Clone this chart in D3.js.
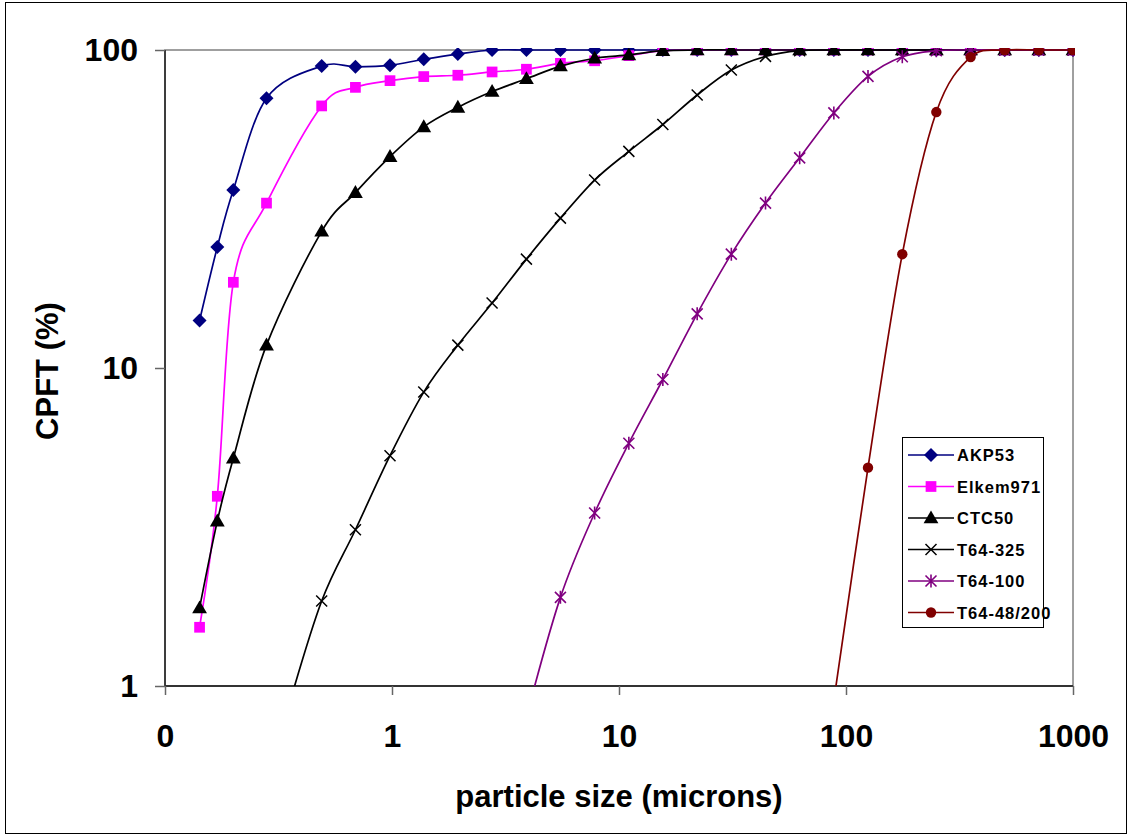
<!DOCTYPE html>
<html>
<head>
<meta charset="utf-8">
<script src="https://cdn.jsdelivr.net/npm/d3@7/dist/d3.min.js"></script>
<style>
  body { margin: 0; background: #fff; }
  svg { display: block; font-family: "Liberation Sans", Arial, sans-serif; }
</style>
</head>
<body>
<svg id="chart" width="1132" height="836"></svg>
<script>
// particle sizes (microns) of the measured points
var sizes = [0.142, 0.17, 0.2, 0.28, 0.345, 0.49, 0.69, 0.98, 1.38, 1.95, 2.76, 3.91, 5.52, 7.81,
             11.05, 15.6, 22.1, 31.25, 44.2, 62.5, 88.4, 125, 177, 250, 354, 500, 707, 1000];

// CPFT (%) per series, null = not measured
var akp53 = [14.1, 24, 36.3, 70.5, null, 89, 88.5, 89.5, 93.5, 97.1, 100, 100, 100, 100,
             100, 100, 100, 100, 100, 100, 100, 100, 100, 100, 100, 100, 100, 100];
var elkem971 = [1.53, 3.95, 18.6, 33, null, 66.7, 76.3, 80.1, 82.5, 83.3, 85.3, 87, 90.8, 92.5,
                96, 99.5, 100, 100, 100, 100, 100, 100, 100, 100, 100, 100, 100, 100];
var ctc50 = [1.76, 3.3, 5.2, 11.8, null, 26.9, 35.6, 46.2, 57.3, 66, 74, 81.2, 89, 94.2,
             96.5, 99.5, 100, 100, 100, 100, 100, 100, 100, 100, 100, 100, 100, 100];
var t64_325 = [null, null, null, null, 0.83, 1.85, 3.1, 5.3, 8.4, 11.8, 16, 22, 29.6, 39,
               48, 58.3, 72.2, 86.5, 95.5, 99.5, 100, 100, 100, 100, 100, 100, 100, 100];
var t64_100 = [null, null, null, null, null, null, null, null, null, null, null, 0.8, 1.9, 3.5,
               5.8, 9.2, 14.8, 22.8, 33, 45.8, 63.4, 82.6, 95.2, 99.5, 100, 100, 100, 100];
var t64_48 = [null, null, null, null, null, null, null, null, null, null, null, null, null, null,
              null, null, null, null, null, null, 0.9, 4.86, 22.8, 63.8, 95, 100, 100, 100];

var seriesNames = ["AKP53", "Elkem971", "CTC50", "T64-325", "T64-100", "T64-48/200"];
var seriesValues = [akp53, elkem971, ctc50, t64_325, t64_100, t64_48];
var seriesColors = ["#000080", "#ff00ff", "#000000", "#000000", "#800080", "#800000"];
var seriesMarkers = ["diamond", "square", "triangle", "x", "star", "circle"];

var xTicks = [0.1, 1, 10, 100, 1000];
var xTickLabels = ["0", "1", "10", "100", "1000"];
var yTicks = [1, 10, 100];

(function() {
  var pLeft = 165, pRight = 1073, pTop = 50, pBottom = 686;

  var x = d3.scaleLog().domain([0.1, 1000]).range([pLeft, pRight]);
  var y = d3.scaleLog().domain([1, 100]).range([pBottom, pTop]);

  var svg = d3.select("#chart");

  // outer frame
  svg.append("rect")
      .attr("x", 5.5).attr("y", 2.5)
      .attr("width", 1121).attr("height", 831)
      .attr("fill", "#fff")
      .attr("stroke", "#000")
      .attr("stroke-width", 1);

  // plot area border
  svg.append("rect")
      .attr("x", pLeft).attr("y", pTop)
      .attr("width", pRight - pLeft).attr("height", pBottom - pTop)
      .attr("fill", "none")
      .attr("stroke", "#808080")
      .attr("stroke-width", 1.5);

  svg.append("defs").append("clipPath")
      .attr("id", "plot-clip")
    .append("rect")
      .attr("x", pLeft).attr("y", pTop - 2)
      .attr("width", pRight - pLeft + 2).attr("height", pBottom - pTop + 2);

  // axes
  var xAxis = d3.axisBottom(x)
      .tickValues(xTicks)
      .tickSize(9)
      .tickPadding(29)
      .tickFormat(function(d, i) { return xTickLabels[i]; });

  var yAxis = d3.axisLeft(y)
      .tickValues(yTicks)
      .tickSize(10)
      .tickPadding(17)
      .tickFormat(d3.format("d"));

  var gx = svg.append("g")
      .attr("transform", "translate(0," + pBottom + ")")
      .call(xAxis);

  var gy = svg.append("g")
      .attr("transform", "translate(" + pLeft + ",0)")
      .call(yAxis);

  [gx, gy].forEach(function(g) {
    g.select(".domain").attr("stroke", "#333").attr("stroke-width", 1.8);
    g.selectAll(".tick line").attr("stroke", "#666").attr("stroke-width", 1.5);
    g.selectAll(".tick text")
        .attr("font-family", "'Liberation Sans', Arial, sans-serif")
        .attr("font-size", 32)
        .attr("font-weight", "bold")
        .attr("fill", "#000");
  });
  gx.select(".domain").attr("d", "M" + pLeft + ",0H" + pRight);
  gy.select(".domain").attr("d", "M0," + pBottom + "V" + pTop);

  // axis titles
  svg.append("text")
      .attr("x", 619).attr("y", 807)
      .attr("text-anchor", "middle")
      .attr("font-size", 31)
      .attr("font-weight", "bold")
      .text("particle size (microns)");

  svg.append("text")
      .attr("transform", "translate(58,371) rotate(-90)")
      .attr("text-anchor", "middle")
      .attr("font-size", 31)
      .attr("font-weight", "bold")
      .text("CPFT (%)");

  // markers
  function drawMarker(g, type, color) {
    if (type === "diamond") {
      g.append("path").attr("d", d3.symbol(d3.symbolSquare, 98)())
          .attr("transform", "rotate(45)").attr("fill", color);
    } else if (type === "square") {
      g.append("path").attr("d", d3.symbol(d3.symbolSquare, 115)()).attr("fill", color);
    } else if (type === "triangle") {
      g.append("path").attr("d", d3.symbol(d3.symbolTriangle, 95)())
          .attr("transform", "translate(0,1)").attr("fill", color);
    } else if (type === "circle") {
      g.append("path").attr("d", d3.symbol(d3.symbolCircle, 85)()).attr("fill", color);
    } else if (type === "x") {
      g.append("path").attr("d", "M-5.5,-5.5L5.5,5.5M-5.5,5.5L5.5,-5.5")
          .attr("stroke", color).attr("stroke-width", 1.5).attr("fill", "none");
    } else if (type === "star") {
      g.append("path").attr("d", "M-5.5,-5.5L5.5,5.5M-5.5,5.5L5.5,-5.5M0,-6.5V6.5")
          .attr("stroke", color).attr("stroke-width", 1.6).attr("fill", "none");
    }
  }

  var line = d3.line()
      .defined(function(d) { return d.v != null; })
      .x(function(d) { return x(d.s); })
      .y(function(d) { return y(d.v); })
      .curve(d3.curveCatmullRom.alpha(0));

  seriesNames.forEach(function(name, i) {
    var pts = sizes.map(function(s, j) { return { s: s, v: seriesValues[i][j] }; })
        .filter(function(d) { return d.v != null; });
    var g = svg.append("g").attr("clip-path", "url(#plot-clip)");
    g.append("path")
        .datum(pts)
        .attr("d", line)
        .attr("fill", "none")
        .attr("stroke", seriesColors[i])
        .attr("stroke-width", 1.7);
    g.selectAll("g.pt")
        .data(pts.filter(function(d) { return d.v >= 1; }))
        .enter().append("g")
        .attr("class", "pt")
        .attr("transform", function(d) { return "translate(" + x(d.s) + "," + y(d.v) + ")"; })
        .each(function() { drawMarker(d3.select(this), seriesMarkers[i], seriesColors[i]); });
  });

  // legend
  var legend = svg.append("g");
  legend.append("rect")
      .attr("x", 902.5).attr("y", 437.5)
      .attr("width", 141).attr("height", 190)
      .attr("fill", "#fff")
      .attr("stroke", "#000")
      .attr("stroke-width", 1);

  seriesNames.forEach(function(name, i) {
    var ly = 455 + i * 31.5;
    var row = legend.append("g").attr("transform", "translate(0," + ly + ")");
    row.append("line")
        .attr("x1", 908).attr("x2", 954)
        .attr("stroke", seriesColors[i]).attr("stroke-width", 1.7);
    var m = row.append("g").attr("transform", "translate(931,0)");
    drawMarker(m, seriesMarkers[i], seriesColors[i]);
    row.append("text")
        .attr("x", 957).attr("y", 6)
        .attr("font-size", 16.5)
        .attr("font-weight", "bold")
        .attr("letter-spacing", 1)
        .text(name);
  });
})();
</script>
</body>
</html>
